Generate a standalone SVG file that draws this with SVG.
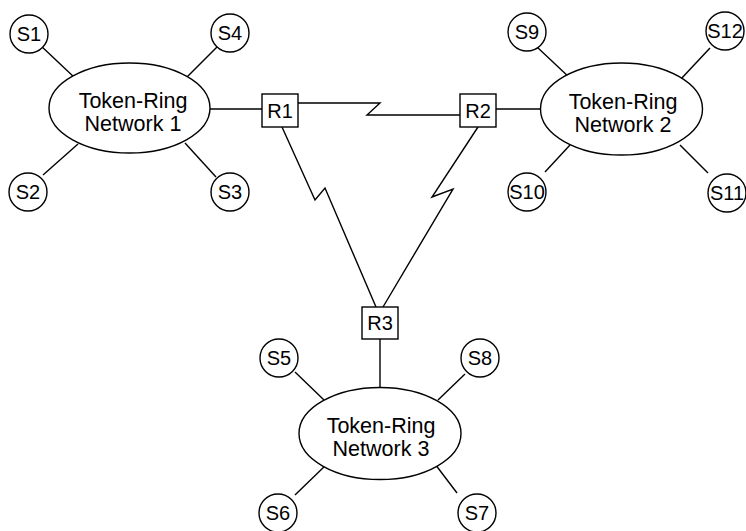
<svg xmlns="http://www.w3.org/2000/svg" width="746" height="531" viewBox="0 0 746 531">
<style>
.s{fill:#fff;stroke:#000;stroke-width:1.4}
.l{fill:none;stroke:#000;stroke-width:1.4}
text{font-family:"Liberation Sans",Arial,sans-serif;fill:#000;text-anchor:middle}
.big{font-size:21.5px}
.sm{font-size:20px}
</style>
<rect width="746" height="531" fill="#fff"/>
<g id="connectors">
<line class="l" x1="40" y1="45" x2="75" y2="78"/>
<line class="l" x1="218" y1="46" x2="186" y2="78"/>
<line class="l" x1="43" y1="175" x2="78" y2="144"/>
<line class="l" x1="185" y1="143" x2="216" y2="177"/>
<line class="l" x1="210" y1="109" x2="262" y2="109"/>
<polyline class="l" points="298,103 380,103 367,115 460,115"/>
<polyline class="l" points="282,127 315,200 325,188 376,307"/>
<polyline class="l" points="478,127 432,197 453,189 383,307"/>
<line class="l" x1="496" y1="109" x2="541" y2="109"/>
<line class="l" x1="537" y1="47" x2="571" y2="79"/>
<line class="l" x1="710" y1="48" x2="680" y2="80"/>
<line class="l" x1="545" y1="172" x2="570" y2="145"/>
<line class="l" x1="680" y1="145" x2="708" y2="173"/>
<line class="l" x1="380" y1="339" x2="380" y2="388"/>
<line class="l" x1="295" y1="372" x2="324" y2="400"/>
<line class="l" x1="465" y1="374" x2="438" y2="400"/>
<line class="l" x1="295" y1="495" x2="327" y2="464"/>
<line class="l" x1="435" y1="464" x2="457" y2="493"/>
</g>
<g id="net1"><ellipse class="s" cx="129.5" cy="108" rx="80.5" ry="45"/><text class="big" x="133" y="108">Token-Ring</text><text class="big" x="133" y="131">Network 1</text></g>
<g id="net2"><ellipse class="s" cx="621.5" cy="109" rx="81" ry="46"/><text class="big" x="623" y="109">Token-Ring</text><text class="big" x="623" y="132">Network 2</text></g>
<g id="net3"><ellipse class="s" cx="380" cy="433.5" rx="81" ry="46"/><text class="big" x="381" y="433">Token-Ring</text><text class="big" x="381" y="456">Network 3</text></g>
<g id="R1"><rect class="s" x="262" y="94" width="36" height="33"/><text class="sm" x="280" y="118">R1</text></g>
<g id="R2"><rect class="s" x="460" y="94" width="36" height="33"/><text class="sm" x="478" y="118">R2</text></g>
<g id="R3"><rect class="s" x="362" y="307" width="36" height="32"/><text class="sm" x="380" y="330">R3</text></g>
<g id="S1"><circle class="s" cx="29" cy="34" r="19"/><text class="sm" x="29" y="41">S1</text></g>
<g id="S4"><circle class="s" cx="230" cy="33" r="19"/><text class="sm" x="230" y="40">S4</text></g>
<g id="S2"><circle class="s" cx="28" cy="192" r="19"/><text class="sm" x="28" y="199">S2</text></g>
<g id="S3"><circle class="s" cx="230" cy="192" r="19"/><text class="sm" x="230" y="199">S3</text></g>
<g id="S9"><circle class="s" cx="527" cy="32" r="19"/><text class="sm" x="527" y="39">S9</text></g>
<g id="S12"><circle class="s" cx="725" cy="31" r="19"/><text class="sm" x="725" y="38">S12</text></g>
<g id="S10"><circle class="s" cx="527" cy="192" r="19"/><text class="sm" x="527" y="199">S10</text></g>
<g id="S11"><circle class="s" cx="727" cy="193" r="19"/><text class="sm" x="727" y="200">S11</text></g>
<g id="S5"><circle class="s" cx="279" cy="358" r="19"/><text class="sm" x="279" y="365">S5</text></g>
<g id="S8"><circle class="s" cx="480" cy="358" r="19"/><text class="sm" x="480" y="365">S8</text></g>
<g id="S6"><circle class="s" cx="278" cy="513" r="19"/><text class="sm" x="278" y="520">S6</text></g>
<g id="S7"><circle class="s" cx="477" cy="513" r="19"/><text class="sm" x="477" y="520">S7</text></g>
</svg>
